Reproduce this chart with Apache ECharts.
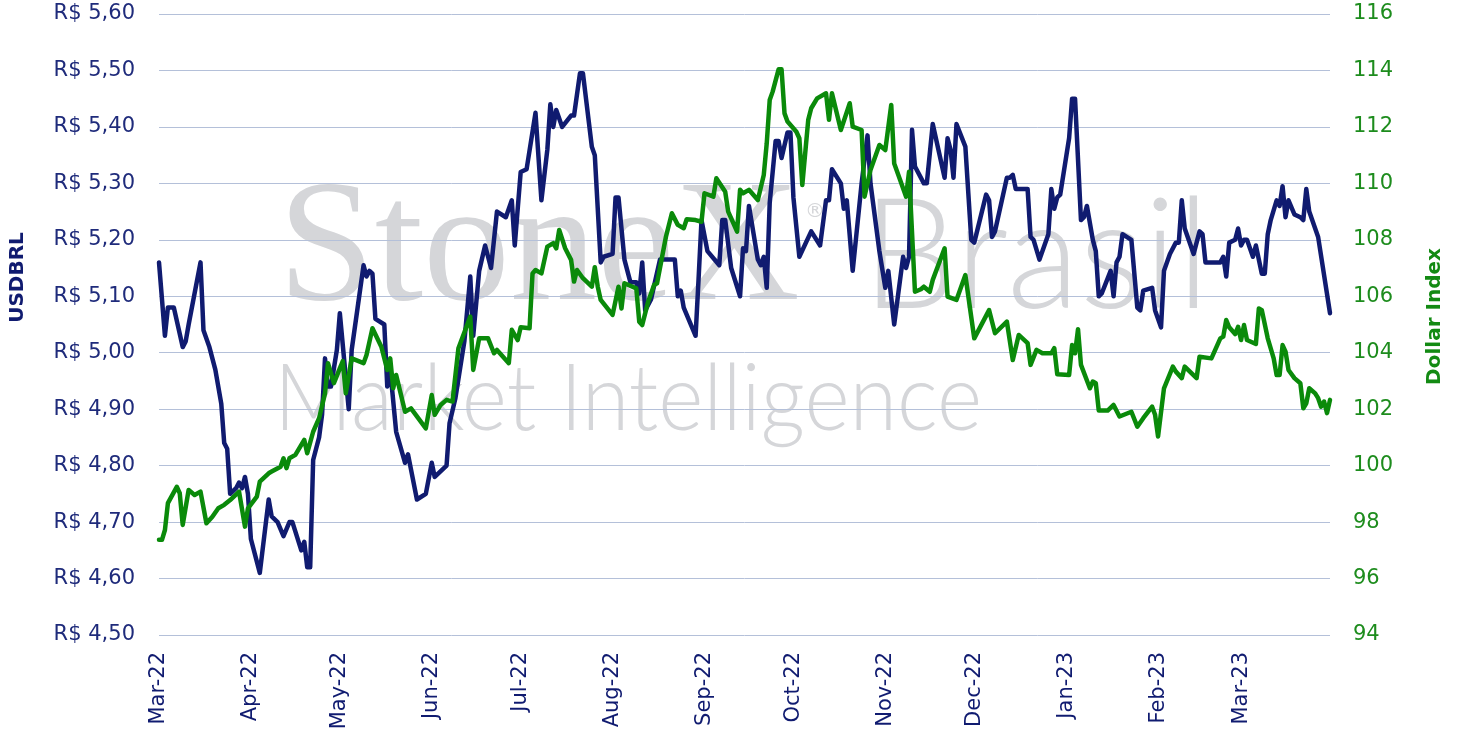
<!DOCTYPE html>
<html>
<head>
<meta charset="utf-8">
<script src="https://cdn.jsdelivr.net/npm/echarts@6/dist/echarts.min.js"></script>
<style>
  html, body { margin: 0; padding: 0; background: #ffffff; }
  #main { width: 1458px; height: 738px; }
</style>
</head>
<body>
<div id="main"></div>
<script>
// USDBRL (left axis)
const usdbrlDates = [
  '2022-03-01','2022-03-03','2022-03-04','2022-03-06','2022-03-09','2022-03-10','2022-03-11','2022-03-15','2022-03-16','2022-03-18',
  '2022-03-20','2022-03-22','2022-03-23','2022-03-24','2022-03-25','2022-03-27','2022-03-28','2022-03-29','2022-03-30','2022-03-31',
  '2022-04-01','2022-04-04','2022-04-07','2022-04-08','2022-04-10','2022-04-12','2022-04-14','2022-04-15','2022-04-18','2022-04-19',
  '2022-04-20','2022-04-21','2022-04-22','2022-04-24','2022-04-25','2022-04-26','2022-04-27','2022-04-28','2022-04-30','2022-05-01',
  '2022-05-04','2022-05-05','2022-05-07','2022-05-09','2022-05-10','2022-05-11','2022-05-12','2022-05-13','2022-05-16','2022-05-17',
  '2022-05-18','2022-05-20','2022-05-23','2022-05-24','2022-05-27','2022-05-30','2022-06-01','2022-06-02','2022-06-06','2022-06-07',
  '2022-06-09','2022-06-12','2022-06-14','2022-06-15','2022-06-17','2022-06-19','2022-06-21','2022-06-23','2022-06-26','2022-06-28',
  '2022-06-29','2022-07-01','2022-07-03','2022-07-06','2022-07-08','2022-07-10','2022-07-11','2022-07-12','2022-07-13','2022-07-15',
  '2022-07-18','2022-07-19','2022-07-21','2022-07-22','2022-07-25','2022-07-26','2022-07-28','2022-07-29','2022-08-01','2022-08-02',
  '2022-08-03','2022-08-05','2022-08-07','2022-08-09','2022-08-10','2022-08-11','2022-08-12','2022-08-14','2022-08-17','2022-08-19',
  '2022-08-22','2022-08-23','2022-08-24','2022-08-25','2022-08-29','2022-08-30','2022-08-31','2022-09-02','2022-09-06','2022-09-07',
  '2022-09-08','2022-09-10','2022-09-13','2022-09-14','2022-09-15','2022-09-16','2022-09-19','2022-09-20','2022-09-21','2022-09-22',
  '2022-09-23','2022-09-25','2022-09-26','2022-09-27','2022-09-29','2022-09-30','2022-10-01','2022-10-03','2022-10-07','2022-10-10',
  '2022-10-12','2022-10-13','2022-10-14','2022-10-17','2022-10-18','2022-10-19','2022-10-21','2022-10-24','2022-10-26','2022-10-27',
  '2022-10-30','2022-11-01','2022-11-02','2022-11-04','2022-11-07','2022-11-08','2022-11-09','2022-11-10','2022-11-11','2022-11-14',
  '2022-11-15','2022-11-17','2022-11-21','2022-11-22','2022-11-23','2022-11-24','2022-11-25','2022-11-28','2022-11-30','2022-12-01',
  '2022-12-05','2022-12-06','2022-12-07','2022-12-08','2022-12-12','2022-12-13','2022-12-14','2022-12-15','2022-12-19','2022-12-20',
  '2022-12-21','2022-12-23','2022-12-26','2022-12-27','2022-12-28','2022-12-29','2022-12-30','2023-01-02','2023-01-03','2023-01-04',
  '2023-01-06','2023-01-07','2023-01-08','2023-01-10','2023-01-11','2023-01-12','2023-01-13','2023-01-16','2023-01-17','2023-01-18',
  '2023-01-19','2023-01-20','2023-01-23','2023-01-25','2023-01-26','2023-01-27','2023-01-30','2023-01-31','2023-02-02','2023-02-03',
  '2023-02-05','2023-02-07','2023-02-08','2023-02-09','2023-02-10','2023-02-13','2023-02-15','2023-02-16','2023-02-17','2023-02-22',
  '2023-02-23','2023-02-24','2023-02-25','2023-02-27','2023-02-28','2023-03-01','2023-03-02','2023-03-03','2023-03-05','2023-03-06',
  '2023-03-08','2023-03-09','2023-03-10','2023-03-11','2023-03-13','2023-03-14','2023-03-15','2023-03-16','2023-03-17','2023-03-19',
  '2023-03-21','2023-03-22','2023-03-23','2023-03-24','2023-03-27','2023-03-31'
];
const usdbrlValues = [
  5.16, 5.03, 5.08, 5.08, 5.01, 5.02, 5.05, 5.16, 5.04, 5.01,
  4.97, 4.91, 4.84, 4.83, 4.75, 4.76, 4.77, 4.76, 4.78, 4.75,
  4.67, 4.61, 4.74, 4.71, 4.70, 4.675, 4.70, 4.70, 4.65, 4.665,
  4.62, 4.62, 4.81, 4.85, 4.89, 4.99, 4.94, 4.94, 5.005, 5.07,
  4.90, 5.005, 5.08, 5.155, 5.135, 5.145, 5.14, 5.06, 5.05, 4.94,
  4.97, 4.86, 4.805, 4.82, 4.74, 4.75, 4.805, 4.78, 4.80, 4.875,
  4.92, 5.02, 5.135, 5.03, 5.145, 5.19, 5.15, 5.25, 5.24, 5.27,
  5.19, 5.32, 5.325, 5.425, 5.27, 5.36, 5.44, 5.40, 5.43, 5.40,
  5.42, 5.42, 5.495, 5.495, 5.365, 5.35, 5.16, 5.17, 5.175, 5.275,
  5.275, 5.165, 5.125, 5.125, 5.105, 5.16, 5.075, 5.095, 5.165, 5.165,
  5.165, 5.10, 5.11, 5.08, 5.03, 5.13, 5.235, 5.18, 5.155, 5.235,
  5.235, 5.15, 5.10, 5.185, 5.18, 5.26, 5.165, 5.155, 5.17, 5.115,
  5.265, 5.375, 5.375, 5.345, 5.39, 5.39, 5.275, 5.17, 5.215, 5.19,
  5.27, 5.27, 5.325, 5.30, 5.255, 5.27, 5.145, 5.30, 5.385, 5.30,
  5.18, 5.115, 5.145, 5.05, 5.17, 5.15, 5.17, 5.395, 5.33, 5.30,
  5.30, 5.405, 5.31, 5.38, 5.36, 5.31, 5.405, 5.365, 5.20, 5.195,
  5.28, 5.27, 5.205, 5.215, 5.31, 5.31, 5.315, 5.29, 5.29, 5.205,
  5.20, 5.165, 5.21, 5.29, 5.255, 5.275, 5.28, 5.38, 5.45, 5.45,
  5.235, 5.24, 5.26, 5.20, 5.18, 5.10, 5.105, 5.145, 5.10, 5.16,
  5.17, 5.21, 5.20, 5.08, 5.075, 5.11, 5.115, 5.075, 5.045, 5.145,
  5.175, 5.195, 5.195, 5.27, 5.22, 5.175, 5.215, 5.21, 5.16, 5.16,
  5.17, 5.135, 5.195, 5.20, 5.22, 5.19, 5.20, 5.20, 5.17, 5.19,
  5.14, 5.14, 5.21, 5.235, 5.27, 5.26, 5.295, 5.24, 5.27, 5.245,
  5.24, 5.235, 5.29, 5.25, 5.205, 5.07
];

// Dollar Index (right axis)
const dxyDates = [
  '2022-03-01','2022-03-02','2022-03-03','2022-03-04','2022-03-07','2022-03-08','2022-03-09','2022-03-11','2022-03-13','2022-03-15',
  '2022-03-17','2022-03-19','2022-03-21','2022-03-23','2022-03-25','2022-03-28','2022-03-30','2022-03-31','2022-04-03','2022-04-04',
  '2022-04-07','2022-04-08','2022-04-11','2022-04-12','2022-04-13','2022-04-14','2022-04-16','2022-04-19','2022-04-20','2022-04-22',
  '2022-04-24','2022-04-26','2022-04-27','2022-04-29','2022-05-02','2022-05-03','2022-05-05','2022-05-09','2022-05-10','2022-05-12',
  '2022-05-15','2022-05-17','2022-05-18','2022-05-19','2022-05-20','2022-05-23','2022-05-25','2022-05-30','2022-06-01','2022-06-02',
  '2022-06-04','2022-06-06','2022-06-08','2022-06-10','2022-06-14','2022-06-15','2022-06-17','2022-06-20','2022-06-22','2022-06-23',
  '2022-06-27','2022-06-28','2022-06-30','2022-07-01','2022-07-04','2022-07-05','2022-07-06','2022-07-08','2022-07-10','2022-07-12',
  '2022-07-13','2022-07-14','2022-07-16','2022-07-18','2022-07-19','2022-07-20','2022-07-22','2022-07-25','2022-07-26','2022-07-27',
  '2022-07-28','2022-08-01','2022-08-03','2022-08-04','2022-08-05','2022-08-09','2022-08-10','2022-08-11','2022-08-13','2022-08-15',
  '2022-08-16','2022-08-19','2022-08-21','2022-08-23','2022-08-25','2022-08-26','2022-08-29','2022-08-31','2022-09-01','2022-09-04',
  '2022-09-05','2022-09-08','2022-09-09','2022-09-12','2022-09-13','2022-09-14','2022-09-16','2022-09-19','2022-09-21','2022-09-22',
  '2022-09-23','2022-09-24','2022-09-26','2022-09-27','2022-09-28','2022-09-29','2022-10-02','2022-10-03','2022-10-04','2022-10-06',
  '2022-10-07','2022-10-09','2022-10-12','2022-10-13','2022-10-14','2022-10-17','2022-10-20','2022-10-21','2022-10-24','2022-10-25',
  '2022-10-27','2022-10-30','2022-11-01','2022-11-03','2022-11-04','2022-11-06','2022-11-08','2022-11-09','2022-11-11','2022-11-13',
  '2022-11-14','2022-11-16','2022-11-17','2022-11-21','2022-11-22','2022-11-25','2022-11-28','2022-12-01','2022-12-06','2022-12-08',
  '2022-12-12','2022-12-14','2022-12-16','2022-12-19','2022-12-20','2022-12-22','2022-12-24','2022-12-27','2022-12-28','2022-12-29',
  '2023-01-02','2023-01-03','2023-01-04','2023-01-05','2023-01-06','2023-01-09','2023-01-10','2023-01-11','2023-01-12','2023-01-15',
  '2023-01-17','2023-01-19','2023-01-23','2023-01-25','2023-01-27','2023-01-30','2023-01-31','2023-02-01','2023-02-03','2023-02-06',
  '2023-02-07','2023-02-09','2023-02-10','2023-02-14','2023-02-15','2023-02-19','2023-02-22','2023-02-23','2023-02-24','2023-02-25',
  '2023-02-27','2023-02-28','2023-03-01','2023-03-02','2023-03-03','2023-03-06','2023-03-07','2023-03-08','2023-03-10','2023-03-12',
  '2023-03-13','2023-03-14','2023-03-15','2023-03-16','2023-03-17','2023-03-19','2023-03-21','2023-03-22','2023-03-23','2023-03-24',
  '2023-03-26','2023-03-27','2023-03-28','2023-03-29','2023-03-30','2023-03-31'
];
const dxyValues = [
  97.37, 97.37, 97.72, 98.67, 99.25, 99.02, 97.90, 99.14, 98.96, 99.08,
  97.96, 98.19, 98.49, 98.61, 98.78, 99.08, 97.84, 98.49, 98.90, 99.43,
  99.73, 99.79, 99.96, 100.26, 99.91, 100.26, 100.38, 100.91, 100.44, 101.20,
  101.68, 102.56, 103.63, 102.92, 103.70, 102.56, 103.80, 103.63, 103.92, 104.87,
  104.21, 103.39, 103.80, 102.74, 103.21, 101.91, 102.03, 101.32, 102.50, 101.80,
  102.15, 102.33, 102.27, 104.16, 105.28, 103.39, 104.51, 104.51, 103.98, 104.10,
  103.63, 104.81, 104.45, 104.90, 104.87, 106.81, 106.93, 106.81, 107.76, 107.88,
  107.70, 108.35, 107.70, 107.29, 106.52, 106.93, 106.64, 106.34, 107.03, 106.34,
  105.87, 105.34, 106.34, 105.57, 106.46, 106.28, 105.10, 104.98, 105.81, 106.40,
  106.46, 108.11, 108.94, 108.53, 108.41, 108.73, 108.70, 108.64, 109.65, 109.53,
  110.18, 109.70, 109.00, 108.29, 109.77, 109.65, 109.77, 109.41, 110.30, 111.42,
  112.95, 113.25, 114.04, 114.04, 112.48, 112.19, 111.83, 111.60, 109.94, 112.25,
  112.66, 113.01, 113.19, 112.25, 113.19, 111.89, 112.84, 112.01, 111.89, 109.53,
  110.47, 111.36, 111.18, 112.78, 110.70, 110.12, 109.53, 110.41, 106.16, 106.25,
  106.34, 106.16, 106.58, 107.70, 105.99, 105.87, 106.75, 104.51, 105.51, 104.69,
  105.10, 103.74, 104.63, 104.34, 103.57, 104.10, 103.98, 103.98, 104.16, 103.24,
  103.21, 104.27, 103.98, 104.83, 103.57, 102.74, 102.98, 102.92, 101.95, 101.95,
  102.15, 101.74, 101.91, 101.38, 101.68, 102.09, 101.80, 101.03, 102.74, 103.51,
  103.33, 103.10, 103.51, 103.10, 103.86, 103.80, 104.51, 104.57, 105.16, 104.90,
  104.66, 104.92, 104.45, 104.98, 104.45, 104.31, 105.57, 105.51, 104.51, 103.80,
  103.21, 103.21, 104.27, 104.04, 103.39, 103.10, 102.92, 102.03, 102.21, 102.74,
  102.56, 102.39, 102.09, 102.27, 101.86, 102.33
];

const monthNames = ['Jan', 'Feb', 'Mar', 'Apr', 'May', 'Jun', 'Jul', 'Aug', 'Sep', 'Oct', 'Nov', 'Dec'];

function toTime(s) {
  const p = s.split('-');
  return new Date(+p[0], +p[1] - 1, +p[2]).getTime();
}

// first day of each month shown on the x axis
const monthTicks = [];
for (let i = 0; i < 13; i++) {
  monthTicks.push(new Date(2022, 2 + i, 1).getTime());
}

const navy = '#101b70';
const green = '#0a8a0a';
const watermark = '#d5d6d9';

const chart = echarts.init(document.getElementById('main'));

const option = {
  animation: false,
  backgroundColor: '#ffffff',
  grid: { left: 158, right: 128, top: 14, bottom: 103, containLabel: false },
  graphic: [
    {
      type: 'text', z: -10, x: 278, y: 166,
      style: { text: 'StoneX', font: '174px "Liberation Serif"', fill: watermark, verticalAlign: 'top' }
    },
    {
      type: 'text', z: -10, x: 805, y: 202,
      style: { text: '®', font: '20px "DejaVu Sans"', fill: watermark, verticalAlign: 'top' }
    },
    {
      type: 'text', z: -10, x: 862, y: 181, scaleX: 0.97,
      style: { text: 'Brasil', font: '300 155px Lato', fill: watermark, verticalAlign: 'top' }
    },
    {
      type: 'text', z: -10, x: 274, y: 354, scaleX: 0.94,
      style: { text: 'Market Intelligence', font: '300 92px Lato', fill: watermark, verticalAlign: 'top' }
    }
  ],
  xAxis: {
    type: 'value',
    min: new Date(2022, 2, 1).getTime(),
    max: new Date(2023, 2, 31).getTime(),
    axisLine: { show: false },
    axisTick: { show: false },
    splitLine: { show: false },
    axisLabel: {
      customValues: monthTicks,
      rotate: 90,
      margin: 17,
      color: navy,
      fontFamily: 'DejaVu Sans',
      fontSize: 21,
      formatter: function (value) {
        const d = new Date(value);
        return monthNames[d.getMonth()] + '-' + String(d.getFullYear()).slice(2);
      }
    }
  },
  yAxis: [
    {
      type: 'value',
      min: 4.5,
      max: 5.6,
      interval: 0.1,
      position: 'left',
      name: 'USDBRL',
      nameLocation: 'middle',
      nameRotate: 90,
      nameGap: 131,
      nameTextStyle: { color: navy, fontFamily: 'DejaVu Sans', fontWeight: 'bold', fontSize: 20, padding: [0, 0, 0, 94] },
      axisLine: { show: false },
      axisTick: { show: false },
      splitLine: { lineStyle: { color: '#b4c0d9', width: 1 } },
      axisLabel: {
        margin: 24,
        color: '#1f2b7b',
        fontFamily: 'DejaVu Sans',
        fontSize: 21,
        formatter: function (v) { return 'R$ ' + v.toFixed(2).replace('.', ','); }
      }
    },
    {
      type: 'value',
      min: 94,
      max: 116,
      interval: 2,
      position: 'right',
      name: 'Dollar Index',
      nameLocation: 'middle',
      nameRotate: 90,
      nameGap: 95,
      nameTextStyle: { color: '#138a13', fontFamily: 'DejaVu Sans', fontWeight: 'bold', fontSize: 20, padding: [0, 0, 0, 16] },
      axisLine: { show: false },
      axisTick: { show: false },
      splitLine: { show: false },
      axisLabel: {
        margin: 23,
        color: '#1d8c1d',
        fontFamily: 'DejaVu Sans',
        fontSize: 21
      }
    }
  ],
  series: [
    {
      name: 'USDBRL',
      type: 'line',
      yAxisIndex: 0,
      showSymbol: false,
      color: navy,
      lineStyle: { width: 4.5, color: navy, join: 'round', cap: 'round' },
      data: usdbrlDates.map((d, i) => [toTime(d), usdbrlValues[i]])
    },
    {
      name: 'Dollar Index',
      type: 'line',
      yAxisIndex: 1,
      showSymbol: false,
      color: green,
      lineStyle: { width: 4.5, color: green, join: 'round', cap: 'round' },
      data: dxyDates.map((d, i) => [toTime(d), dxyValues[i]])
    }
  ]
};

chart.setOption(option);
</script>
</body>
</html>
